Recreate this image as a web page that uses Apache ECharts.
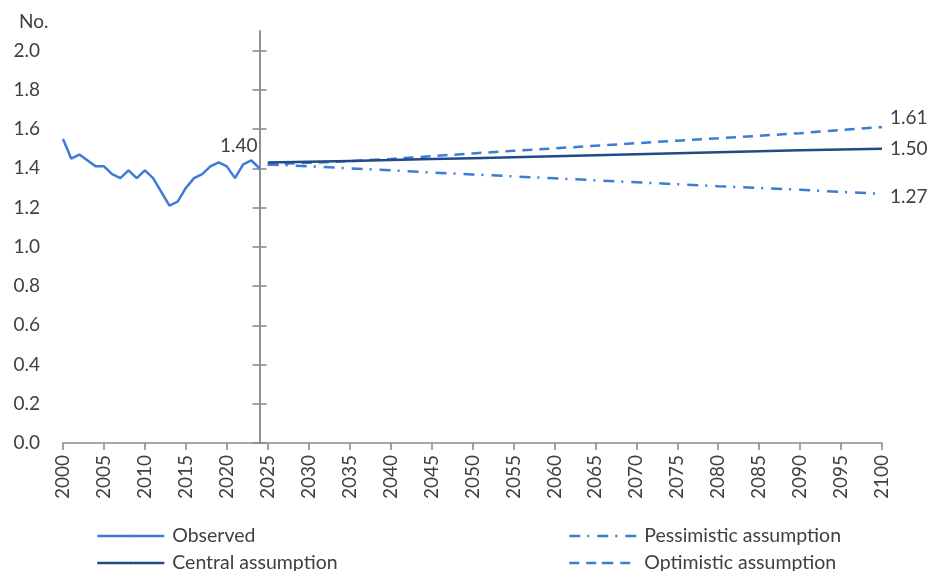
<!DOCTYPE html>
<html>
<head>
<meta charset="utf-8">
<script src="https://cdn.jsdelivr.net/npm/echarts@6/dist/echarts.min.js"></script>
<style>
  html, body { margin: 0; padding: 0; background: #ffffff; }
  #chart { width: 928px; height: 571px; }
</style>
</head>
<body>
<div id="chart"></div>
<script>
// ---- data ----
const observedYears = [2000, 2001, 2002, 2003, 2004, 2005, 2006, 2007, 2008, 2009, 2010, 2011, 2012,
  2013, 2014, 2015, 2016, 2017, 2018, 2019, 2020, 2021, 2022, 2023, 2024];
const observedValues = [1.55, 1.45, 1.47, 1.44, 1.41, 1.41, 1.37, 1.35, 1.39, 1.35, 1.39, 1.35, 1.28,
  1.21, 1.23, 1.30, 1.35, 1.37, 1.41, 1.43, 1.41, 1.35, 1.42, 1.44, 1.40];

const projectionYears = [2025, 2030, 2035, 2040, 2045, 2050, 2055, 2060, 2065, 2070, 2075, 2080,
  2085, 2090, 2095, 2100];
const centralValues = [1.430, 1.434, 1.438, 1.442, 1.447, 1.452, 1.457, 1.462, 1.467, 1.472, 1.477,
  1.482, 1.487, 1.492, 1.496, 1.500];
const pessimisticValues = [1.420, 1.410, 1.400, 1.390, 1.379, 1.369, 1.359, 1.349, 1.339, 1.329,
  1.319, 1.309, 1.300, 1.291, 1.280, 1.270];
const optimisticValues = [1.420, 1.428, 1.437, 1.448, 1.462, 1.476, 1.489, 1.502, 1.515, 1.528,
  1.541, 1.553, 1.566, 1.579, 1.596, 1.610];

const yTickValues = [0, 0.2, 0.4, 0.6, 0.8, 1.0, 1.2, 1.4, 1.6, 1.8, 2.0];
const axisCrossYear = 2024;

const seriesNames = ['Observed', 'Central assumption', 'Pessimistic assumption', 'Optimistic assumption'];

// ---- layout / style ----
const FONT = 'Lato';
const TEXT_COLOR = '#404040';
const AXIS_COLOR = '#8c8c8c';
const BLUE = '#3c7bd6';
const NAVY = '#224a8a';
const gridLeft = 63, gridRight = 46, gridTop = 31, gridBottom = 128;
const xMin = 2000, xMax = 2100;

const chart = echarts.init(document.getElementById('chart'), null, { renderer: 'canvas' });
const plotWidth = 928 - gridLeft - gridRight;
const crossOffset = -((axisCrossYear - xMin) / (xMax - xMin)) * plotWidth;

function zip(xs, ys) { return xs.map((x, i) => [x, ys[i]]); }

function endLabel(dy) {
  return {
    show: true, distance: 8, offset: [0, dy],
    formatter: p => p.value[1].toFixed(2),
    fontFamily: FONT, fontSize: 19, color: TEXT_COLOR
  };
}

function legendItem(name, left, top) {
  return {
    data: [name], orient: 'horizontal', left: left, top: top,
    itemWidth: 67, itemHeight: 3, itemGap: 5,
    lineStyle: { width: 2.5 },
    textStyle: { fontFamily: FONT, fontSize: 19.5, color: TEXT_COLOR, lineHeight: 20, padding: [0, 0, 0, 3] }
  };
}

const crossAxisBase = {
  type: 'value', min: 0, max: 2.1, interval: 0.2, position: 'left', offset: crossOffset,
  axisLine: { show: true, onZero: false, lineStyle: { color: AXIS_COLOR, width: 1.6 } },
  axisLabel: { show: false },
  splitLine: { show: false }
};

const option = {
  animation: false,
  backgroundColor: '#ffffff',
  title: {
    text: 'No.', left: 14, top: 7,
    textStyle: { fontFamily: FONT, fontSize: 19, fontWeight: 'normal', color: TEXT_COLOR }
  },
  grid: { left: gridLeft, right: gridRight, top: gridTop, bottom: gridBottom, containLabel: false },
  legend: [
    legendItem(seriesNames[0], 91, 521),
    legendItem(seriesNames[1], 91, 548),
    legendItem(seriesNames[2], 563, 521),
    legendItem(seriesNames[3], 563, 548)
  ],
  xAxis: {
    type: 'value', min: xMin, max: xMax, interval: 5,
    axisLine: { show: true, onZero: false, lineStyle: { color: AXIS_COLOR, width: 1.6 } },
    axisTick: { show: true, length: 7, lineStyle: { color: AXIS_COLOR, width: 1.6 } },
    axisLabel: {
      rotate: 90, margin: 12, formatter: v => String(v),
      fontFamily: FONT, fontSize: 19, color: TEXT_COLOR
    },
    splitLine: { show: false }
  },
  yAxis: [
    {
      type: 'value', min: 0, max: 2.1, interval: 0.2, position: 'left',
      axisLine: { show: false }, axisTick: { show: false }, splitLine: { show: false },
      axisLabel: {
        customValues: yTickValues, margin: 23,
        formatter: v => (v > 2.05 ? '' : v.toFixed(1)),
        fontFamily: FONT, fontSize: 19, color: TEXT_COLOR
      }
    },
    Object.assign({}, crossAxisBase, {
      axisTick: { show: true, inside: false, length: 7, customValues: yTickValues,
        lineStyle: { color: AXIS_COLOR, width: 1.6 } }
    }),
    Object.assign({}, crossAxisBase, {
      axisTick: { show: true, inside: true, length: 7, customValues: yTickValues,
        lineStyle: { color: AXIS_COLOR, width: 1.6 } }
    })
  ],
  series: [
    {
      name: seriesNames[0], type: 'line', data: zip(observedYears, observedValues), yAxisIndex: 0,
      symbol: 'none', color: BLUE, lineStyle: { color: BLUE, width: 2.5 }, z: 5,
      endLabel: {
        show: true, distance: 0, align: 'right', offset: [-2, -22],
        formatter: p => p.value[1].toFixed(2),
        fontFamily: FONT, fontSize: 19, color: TEXT_COLOR
      }
    },
    {
      name: seriesNames[1], type: 'line', data: zip(projectionYears, centralValues), yAxisIndex: 0,
      symbol: 'none', color: NAVY, lineStyle: { color: NAVY, width: 2.5 },
      endLabel: endLabel(0), z: 4
    },
    {
      name: seriesNames[2], type: 'line', data: zip(projectionYears, pessimisticValues), yAxisIndex: 0,
      symbol: 'none', color: BLUE,
      lineStyle: { color: BLUE, width: 2.5, type: [11, 7, 2, 8], cap: 'butt' },
      endLabel: endLabel(3), z: 3
    },
    {
      name: seriesNames[3], type: 'line', data: zip(projectionYears, optimisticValues), yAxisIndex: 0,
      symbol: 'none', color: BLUE,
      lineStyle: { color: BLUE, width: 2.5, type: [10, 7], cap: 'butt' },
      endLabel: endLabel(-9), z: 3
    }
  ]
};

chart.setOption(option);
</script>
</body>
</html>
